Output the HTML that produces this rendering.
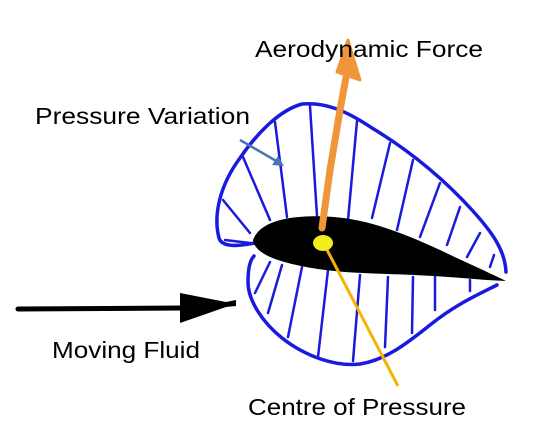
<!DOCTYPE html>
<html><head><meta charset="utf-8"><style>
html,body{margin:0;padding:0;background:#fff;}
svg{display:block;}
text{font-family:"Liberation Sans",sans-serif;font-size:23px;fill:#000;}
</style></head><body>
<svg width="545" height="443" viewBox="0 0 545 443">
  <g fill="none" stroke="#1a1adf" stroke-width="3.5" stroke-linecap="round" stroke-linejoin="round">
    <path d="M255,243 C240,246 222,248 219,238 C213,215 220,185 240,158 C258,132 280,110 302,104 C325,102 345,110 372,128 C405,148 440,175 472,210 C492,232 505,250 506,272"/>
    <path d="M497,285 C475,296 455,305 430,325 C405,345 385,360 360,364 C335,367 305,356 282,338 C262,322 248,300 248,282 C248,268 250,260 254,256"/>
    <g stroke-width="2.5">
      <line x1="275" y1="122" x2="287" y2="217"/>
      <line x1="310" y1="106" x2="317" y2="216"/>
      <line x1="357" y1="121" x2="348" y2="220"/>
      <line x1="390" y1="143" x2="372" y2="218"/>
      <line x1="413" y1="160" x2="397" y2="230"/>
      <line x1="440" y1="183" x2="420" y2="237"/>
      <line x1="460" y1="207" x2="447" y2="245"/>
      <line x1="480" y1="233" x2="467" y2="257"/>
      <line x1="494" y1="255" x2="490" y2="267"/>
      <line x1="243" y1="157" x2="270" y2="220"/>
      <line x1="223" y1="200" x2="250" y2="233"/>
      <line x1="225" y1="240" x2="250" y2="243"/>
      <line x1="270" y1="262" x2="255" y2="293"/>
      <line x1="282" y1="265" x2="268" y2="313"/>
      <line x1="302" y1="267" x2="288" y2="337"/>
      <line x1="328" y1="270" x2="318" y2="357"/>
      <line x1="360" y1="275" x2="353" y2="361"/>
      <line x1="388" y1="277" x2="385" y2="347"/>
      <line x1="413" y1="277" x2="412" y2="333"/>
      <line x1="435" y1="277" x2="435" y2="310"/>
      <line x1="470" y1="280" x2="470" y2="291"/>
    </g>
  </g>
  <path fill="#000" d="M253,240 C258,227 272,221 290,218 C305,216 325,215 350,219 C380,224 410,236 440,250 C465,262 490,273 506,281 C480,280 455,277 433,276 C400,274 375,274 345,272 C320,270 295,266 275,259 C262,254 254,248 253,240 Z"/>
  <g>
    <path d="M322,228 L330,170 L340,110 L347,72" stroke="#f0953a" stroke-width="7" fill="none" stroke-linecap="round"/>
    <polygon points="348,40 337,72 360,80" fill="#f0953a" stroke="#f0953a" stroke-width="3" stroke-linejoin="round"/>
  </g>
  <line x1="325" y1="246" x2="398" y2="386" stroke="#f5b400" stroke-width="3"/>
  <ellipse cx="323" cy="243" rx="10" ry="8" fill="#f2ee1c"/>
  <g>
    <line x1="240" y1="140" x2="278" y2="162" stroke="#4a74b8" stroke-width="2.5"/>
    <polygon points="284,166 272,165 278,156" fill="#4a74b8"/>
  </g>
  <g>
    <line x1="18" y1="309" x2="182" y2="308" stroke="#000" stroke-width="5" stroke-linecap="round"/>
    <polygon points="180,293 180,323 226,307 236,306 236,300 226,302" fill="#000"/>
  </g>
  <text x="255" y="57" textLength="228" lengthAdjust="spacingAndGlyphs">Aerodynamic Force</text>
  <text x="35" y="124" textLength="215" lengthAdjust="spacingAndGlyphs">Pressure Variation</text>
  <text x="52" y="358" textLength="148" lengthAdjust="spacingAndGlyphs">Moving Fluid</text>
  <text x="248" y="415" textLength="218" lengthAdjust="spacingAndGlyphs">Centre of Pressure</text>
</svg>
</body></html>
